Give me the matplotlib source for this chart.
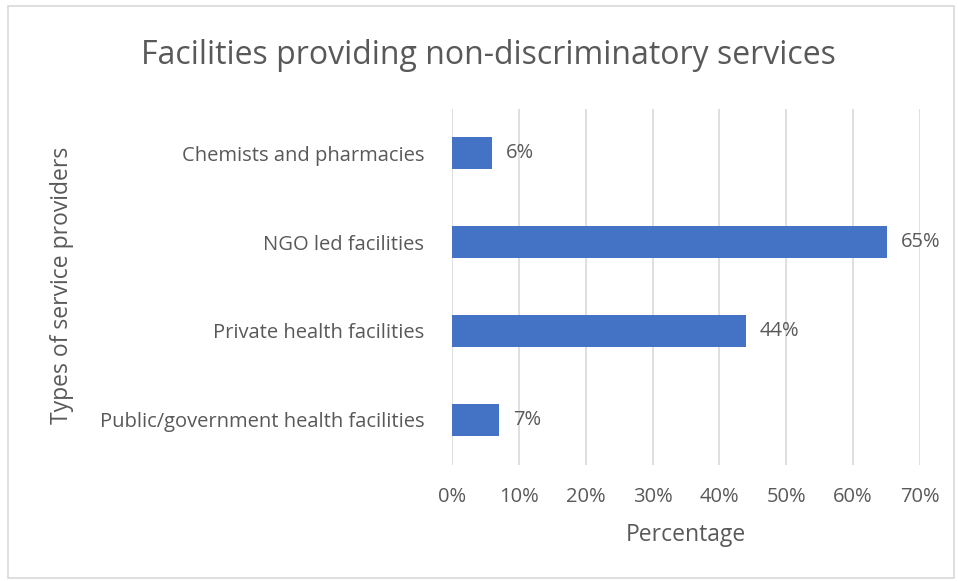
import matplotlib
matplotlib.use("Agg")
import matplotlib.pyplot as plt
from matplotlib.patches import Rectangle
from matplotlib.ticker import FuncFormatter

categories = ["Public/government health facilities", "Private health facilities",
              "NGO led facilities", "Chemists and pharmacies"]
values = [7, 44, 65, 6]
xticks = [0, 10, 20, 30, 40, 50, 60, 70]

plt.rcParams['font.family'] = ['Open Sans', 'DejaVu Sans']
TXT = '#595959'

fig = plt.figure(figsize=(9.58, 5.81), dpi=100)
fig.patches.append(Rectangle((8/958, 3/581), 946/958, 572/581, transform=fig.transFigure,
                             fill=False, edgecolor='#D9D9D9', linewidth=1.2))
ax = fig.add_axes([452/958, 1-464.5/581, 468/958, 356/581])
y = range(len(categories))
ax.barh(y, values, height=0.36, color='#4472C4', zorder=3)
for i, v in zip(y, values):
    ax.annotate(f"{v}%", (v, i), xytext=(10, 0), textcoords='offset points',
                va='center', ha='left', fontsize=14.5, color=TXT)
ax.set_xlim(0, 70)
ax.set_ylim(-0.5, len(categories)-0.5)
ax.set_xticks(xticks)
ax.xaxis.set_major_formatter(FuncFormatter(lambda x, p: f"{int(x)}%"))
ax.set_yticks(list(y))
ax.set_yticklabels(categories)
ax.grid(axis='x', color='#D9D9D9', linewidth=1.2, zorder=0)
for s in ax.spines.values():
    s.set_visible(False)
ax.tick_params(axis='both', length=0, labelsize=14.5, colors=TXT)
ax.tick_params(axis='x', pad=16)
ax.tick_params(axis='y', pad=20)
ax.set_xlabel("Percentage", fontsize=16.5, color=TXT, labelpad=12)
fig.text(62/958, 1-285/581, "Types of service providers", rotation=90, fontsize=16.5,
         color=TXT, ha='center', va='center')
fig.text(488/958, 1-55/581, "Facilities providing non-discriminatory services",
         fontsize=23, color=TXT, ha='center', va='center')
fig.savefig("out.png", dpi=100)
